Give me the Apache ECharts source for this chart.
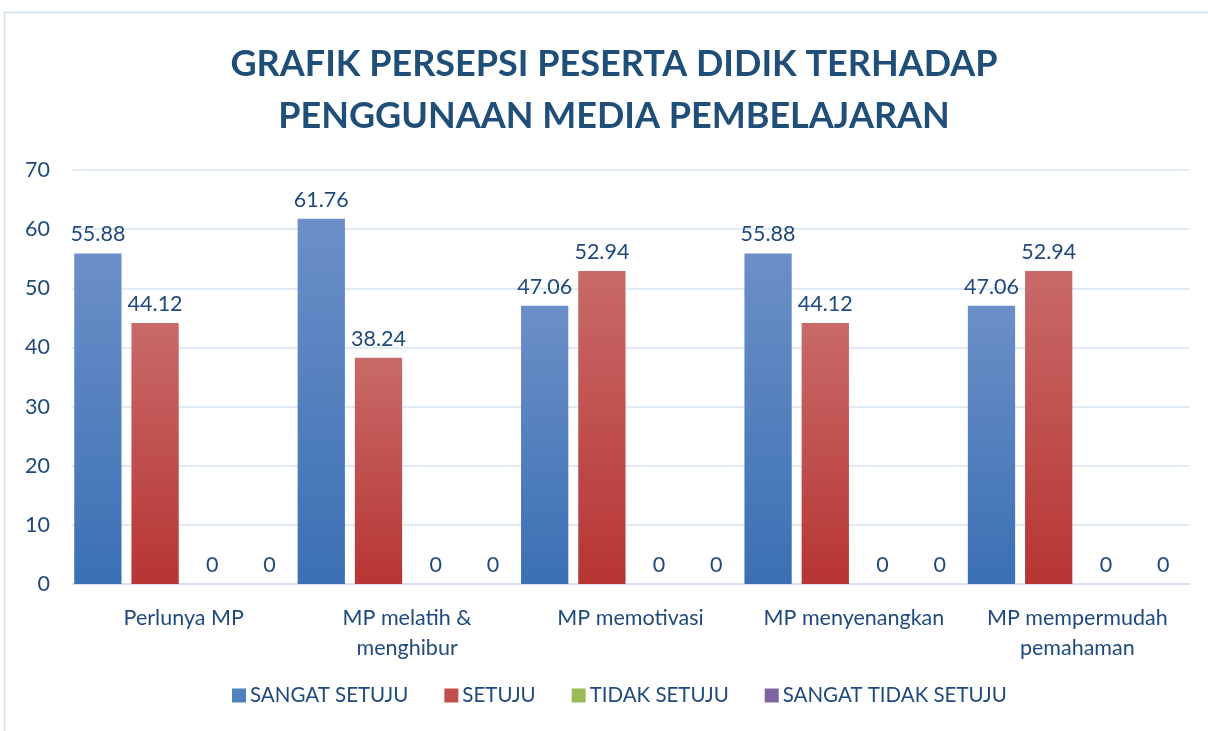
<!DOCTYPE html>
<html><head><meta charset="utf-8">
<script src="https://cdn.jsdelivr.net/npm/echarts@6/dist/echarts.min.js"></script>
<style>html,body{margin:0;padding:0;background:#fff}#c{width:1208px;height:731px}</style>
</head><body><div id="c"></div>
<script>
const titleText = 'GRAFIK PERSEPSI PESERTA DIDIK TERHADAP\nPENGGUNAAN MEDIA PEMBELAJARAN';
const categories = ['Perlunya MP', 'MP melatih &\nmenghibur', 'MP memotivasi', 'MP menyenangkan', 'MP mempermudah\npemahaman'];
const seriesNames = ['SANGAT SETUJU', 'SETUJU', 'TIDAK SETUJU', 'SANGAT TIDAK SETUJU'];
const sangatSetuju = [55.88, 61.76, 47.06, 55.88, 47.06];
const setuju = [44.12, 38.24, 52.94, 44.12, 52.94];
const tidakSetuju = [0, 0, 0, 0, 0];
const sangatTidakSetuju = [0, 0, 0, 0, 0];
const yTicks = [0, 10, 20, 30, 40, 50, 60, 70];

const textColor = '#1F497D';
const font = 'Lato, "Open Sans", sans-serif';
function grad(top, bottom) {
  return new echarts.graphic.LinearGradient(0, 0, 0, 1, [{offset: 0, color: top}, {offset: 1, color: bottom}]);
}
const fills = [grad('#6C8FC7', '#3A70B4'), grad('#C86A69', '#B73533'), grad('#B0CB7A', '#8DB04A'), grad('#9580B6', '#735794')];
const legendColors = ['#4F81BD', '#C0504D', '#9BBB59', '#8064A2'];
const values = [sangatSetuju, setuju, tidakSetuju, sangatTidakSetuju];

const chart = echarts.init(document.getElementById('c'), null, {renderer: 'canvas'});
chart.setOption({
  animation: false,
  backgroundColor: '#fff',
  color: legendColors,
  graphic: [{type: 'rect', shape: {x: 4.5, y: 12.5, width: 1300, height: 800}, style: {fill: 'none', stroke: '#CFDDEE', lineWidth: 1.5}, z: -1}],
  title: {text: titleText, left: 614, textAlign: 'center', top: 33, padding: [5, 0, 5, 0], textStyle: {fontFamily: font, fontWeight: 'bold', fontSize: 36, color: '#1F4E79', lineHeight: 52}},
  grid: {left: 72, right: 19, top: 170, bottom: 147, containLabel: false},
  legend: {bottom: 20, left: 227, itemWidth: 14, itemHeight: 14, itemGap: 36, icon: 'rect',
    textStyle: {fontFamily: font, fontSize: 20.5, color: textColor, padding: [0, 0, 0, -1]},
    data: seriesNames.map((n, i) => ({name: n, itemStyle: {color: legendColors[i]}}))},
  xAxis: {type: 'category', data: categories,
    axisLine: {lineStyle: {color: '#D6E2F1', width: 2}}, axisTick: {show: false},
    axisLabel: {fontFamily: font, fontSize: 21.5, color: textColor, margin: 19, lineHeight: 30, interval: 0}},
  yAxis: {type: 'value', min: yTicks[0], max: yTicks[yTicks.length - 1], interval: 10,
    axisLine: {show: false}, axisTick: {show: false},
    splitLine: {lineStyle: {color: '#D6E2F1', width: 1.5}},
    axisLabel: {fontFamily: font, fontSize: 21.5, color: textColor, margin: 22}},
  series: seriesNames.map((n, i) => ({
    name: n, type: 'bar', data: values[i], barGap: '21%', barCategoryGap: '2%',
    itemStyle: {color: fills[i]},
    label: {show: true, position: 'top', distance: 8, fontFamily: font, fontSize: 21.5, color: textColor}
  }))
});
</script></body></html>
